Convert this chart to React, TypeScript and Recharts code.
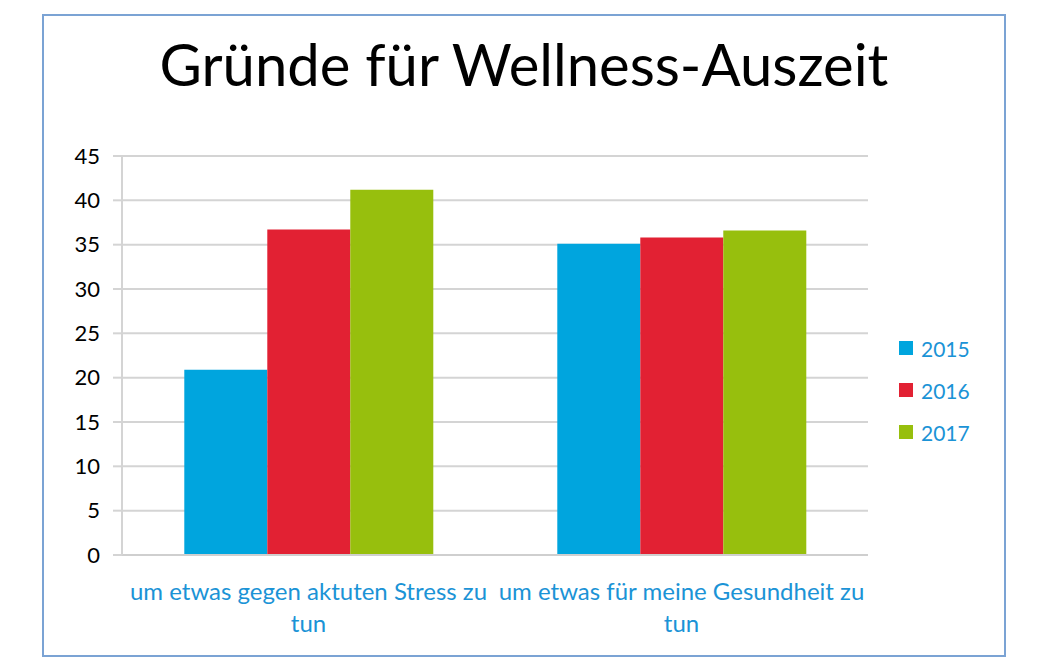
import React from 'react';
import { BarChart, Bar, XAxis, YAxis, CartesianGrid } from 'recharts';

const categories = ['um etwas gegen aktuten Stress zu tun', 'um etwas für meine Gesundheit zu tun'];
const values2015 = [20.9, 35.1];
const values2016 = [36.7, 35.8];
const values2017 = [41.2, 36.6];
const yTicks = [0, 5, 10, 15, 20, 25, 30, 35, 40, 45];
const seriesNames = ['2015', '2016', '2017'];
const seriesColors = ['#00a5de', '#e22133', '#97bf0d'];

const data = categories.map((name, i) => ({
  name,
  y2015: values2015[i],
  y2016: values2016[i],
  y2017: values2017[i],
}));

const FONT = 'Lato, "Open Sans", sans-serif';
const LABEL_BLUE = '#1b93d6';

const CategoryTick = (props: any) => {
  const { x, y, payload } = props;
  const words = String(payload.value).split(' ');
  const last = words.pop();
  const lines = [words.join(' '), last];
  return (
    <g>
      {lines.map((line, i) => (
        <text
          key={i}
          x={x}
          y={y + 43 + i * 32}
          textAnchor="middle"
          fill={LABEL_BLUE}
          fontSize={24}
          fontFamily={FONT}
        >
          {line}
        </text>
      ))}
    </g>
  );
};

export default function App() {
  return (
    <div style={{ position: 'absolute', left: 0, top: 0, width: 1052, height: 672, background: '#fff' }}>
      <div style={{
        position: 'absolute', left: 42, top: 14, width: 960, height: 639,
        border: '2px solid #7ba3d4'
      }} />
      <div style={{
        position: 'absolute', left: 42, top: 14, width: 964, textAlign: 'center',
        fontFamily: FONT, fontSize: 58, color: '#000', lineHeight: '80px', paddingTop: 10
      }}>
        Gründe für Wellness-Auszeit
      </div>
      <div style={{ position: 'absolute', left: 0, top: 0 }}>
        <BarChart
          width={1052}
          height={672}
          data={data}
          margin={{ top: 156, right: 184, left: 62, bottom: 37 }}
          barGap={0}
          barCategoryGap="16.7%"
        >
          <CartesianGrid horizontal vertical={false} stroke="#d4d4d4" strokeWidth={2} />
          <XAxis
            dataKey="name"
            height={80}
            tick={<CategoryTick />}
            tickLine={false}
            tickSize={0}
            axisLine={{ stroke: '#cfcfcf', strokeWidth: 2 }}
            interval={0}
          />
          <YAxis
            width={60}
            domain={[0, 45]}
            ticks={yTicks}
            tickSize={9}
            tickMargin={13}
            tickLine={{ stroke: '#d4d4d4', strokeWidth: 2 }}
            axisLine={{ stroke: '#d4d4d4', strokeWidth: 2 }}
            tick={{ fill: '#000', fontSize: 22, fontFamily: FONT }}
          />
          <Bar dataKey="y2015" name="2015" fill={seriesColors[0]} isAnimationActive={false} />
          <Bar dataKey="y2016" name="2016" fill={seriesColors[1]} isAnimationActive={false} />
          <Bar dataKey="y2017" name="2017" fill={seriesColors[2]} isAnimationActive={false} />
        </BarChart>
      </div>
      <div style={{ position: 'absolute', left: 899, top: 327, fontFamily: FONT }}>
        {seriesNames.map((n, i) => (
          <div key={n} style={{ display: 'flex', alignItems: 'center', height: 42 }}>
            <span style={{ width: 14, height: 14, background: seriesColors[i], display: 'inline-block', marginRight: 8 }} />
            <span style={{ color: LABEL_BLUE, fontSize: 21 }}>{n}</span>
          </div>
        ))}
      </div>
    </div>
  );
}
